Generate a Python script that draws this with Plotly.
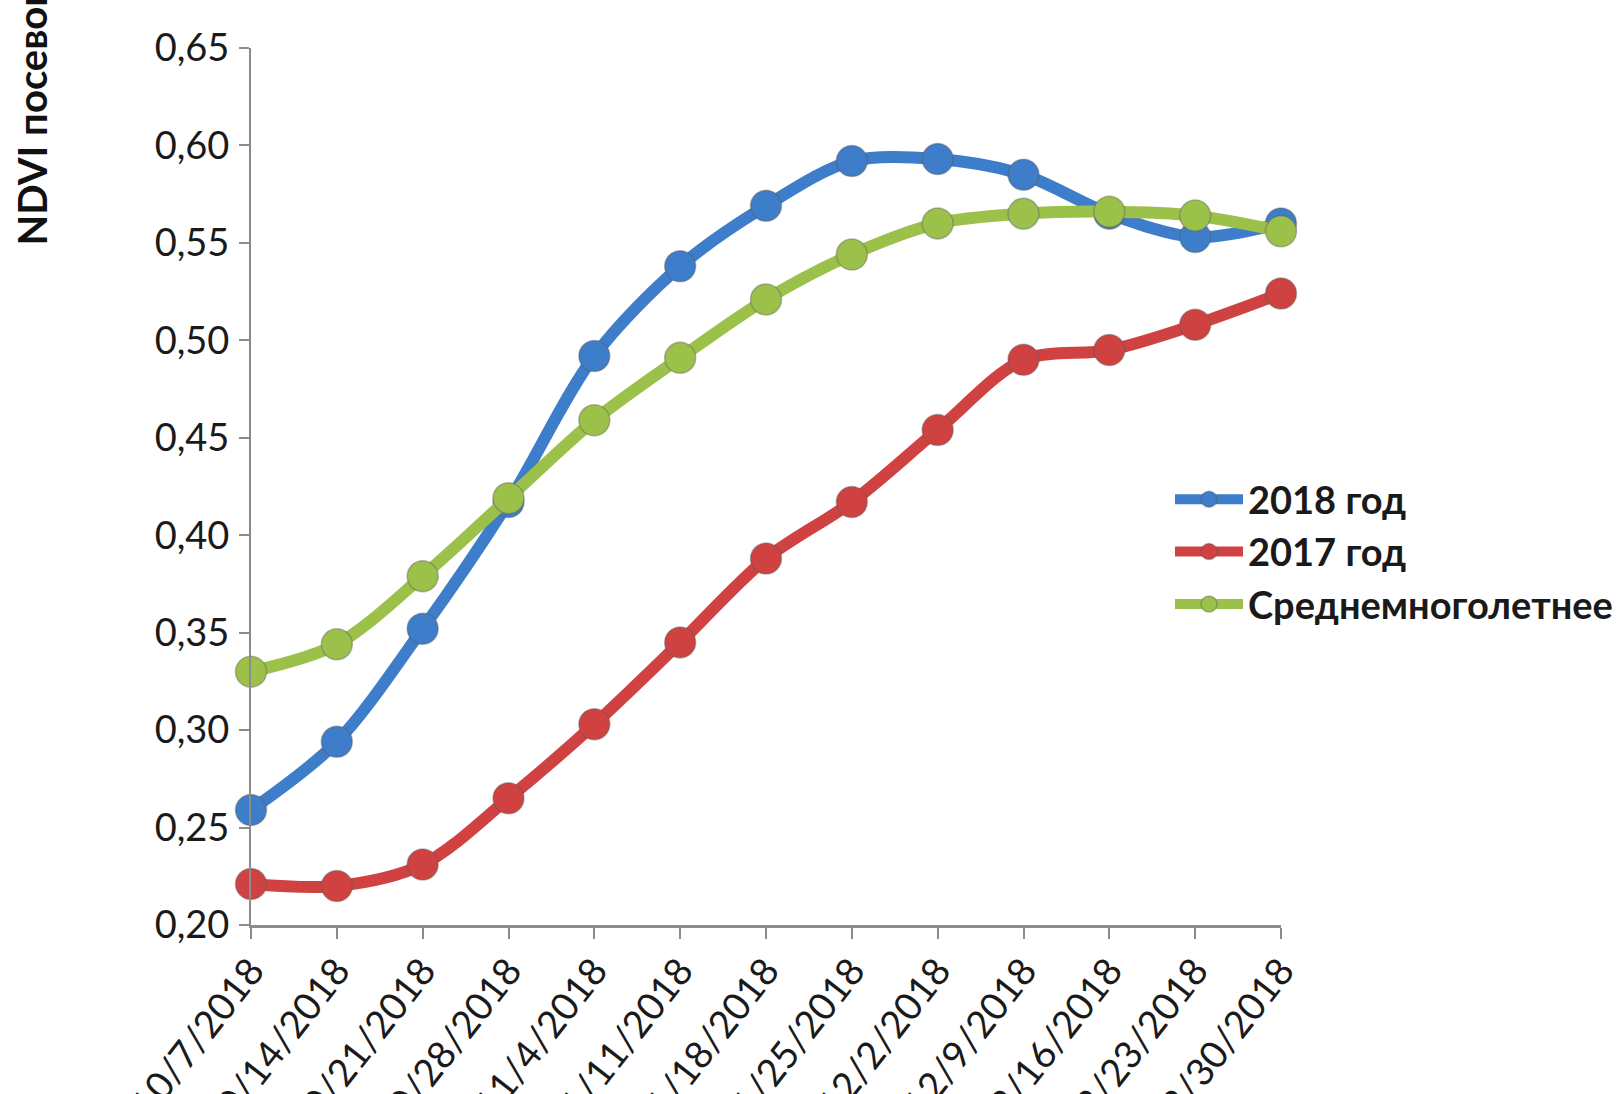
import plotly.graph_objects as go

# Weekly observation dates (category axis)
dates = ["10/7/2018", "10/14/2018", "10/21/2018", "10/28/2018", "11/4/2018",
         "11/11/2018", "11/18/2018", "11/25/2018", "12/2/2018", "12/9/2018",
         "12/16/2018", "12/23/2018", "12/30/2018"]

# NDVI of crops per date
ndvi_2018 = [0.259, 0.294, 0.352, 0.417, 0.492, 0.538, 0.569, 0.592, 0.593,
             0.585, 0.565, 0.553, 0.560]
ndvi_2017 = [0.221, 0.220, 0.231, 0.265, 0.303, 0.345, 0.388, 0.417, 0.454,
             0.490, 0.495, 0.508, 0.524]
ndvi_mean = [0.330, 0.344, 0.379, 0.419, 0.459, 0.491, 0.521, 0.544, 0.560,
             0.565, 0.566, 0.564, 0.556]

series_names = ["2018 год", "2017 год", "Среднемноголетнее"]
series_colors = ["#3D7DCA", "#D04242", "#9CC14A"]

y_ticks = [0.20, 0.25, 0.30, 0.35, 0.40, 0.45, 0.50, 0.55, 0.60, 0.65]

W, H = 1617, 1094
L, R, T, B = 251, 336, 48, 169

fig = go.Figure()
for name, vals, col in zip(series_names, [ndvi_2018, ndvi_2017, ndvi_mean], series_colors):
    fig.add_trace(go.Scatter(
        x=dates, y=vals, name=name, mode="lines+markers",
        line=dict(color=col, width=12, shape="spline", smoothing=0.9),
        marker=dict(symbol="circle", size=31, color=col,
                    line=dict(color="rgba(90,90,90,0.4)", width=1.5)),
        cliponaxis=False,
    ))

axis_font = dict(family="Lato, sans-serif", size=38, color="#1a1a1a")

fig.update_layout(
    width=W, height=H,
    margin=dict(l=L, r=R, t=T, b=B, autoexpand=False),
    paper_bgcolor="white", plot_bgcolor="white",
    separators=", ",
    showlegend=True,
    legend=dict(
        xref="container", yref="container",
        x=1170 / W, y=1 - 468 / H, xanchor="left", yanchor="top",
        font=dict(family="Lato, sans-serif", size=38, color="#1a1a1a", weight="bold"),
        itemwidth=68, tracegroupgap=0, bgcolor="rgba(0,0,0,0)",
    ),
    xaxis=dict(
        type="category", range=[0, len(dates) - 1],
        showline=True, linecolor="#8c8c8c", linewidth=3,
        ticks="outside", ticklen=11, tickwidth=2, tickcolor="#8c8c8c",
        showgrid=False, zeroline=False,
        tickangle=-52, tickfont=axis_font, automargin=False,
        ticklabelstandoff=-6,
    ),
    yaxis=dict(
        range=[0.20, 0.65], tickvals=y_ticks, tickformat=".2f",
        showline=True, linecolor="#8c8c8c", linewidth=2,
        ticks="outside", ticklen=10, tickwidth=2, tickcolor="#8c8c8c",
        showgrid=False, zeroline=False,
        tickfont=axis_font, automargin=False, ticklabelstandoff=2,
    ),
    annotations=[dict(
        text="<b>NDVI посевов</b>", textangle=-90, showarrow=False,
        xref="paper", yref="paper",
        x=(32 - L) / (W - L - R), y=(H - B - 248) / (H - B - T),
        xanchor="center", yanchor="bottom",
        font=dict(family="Lato, sans-serif", size=40, color="#111111"),
    )],
)

fig.write_html("out.html")
